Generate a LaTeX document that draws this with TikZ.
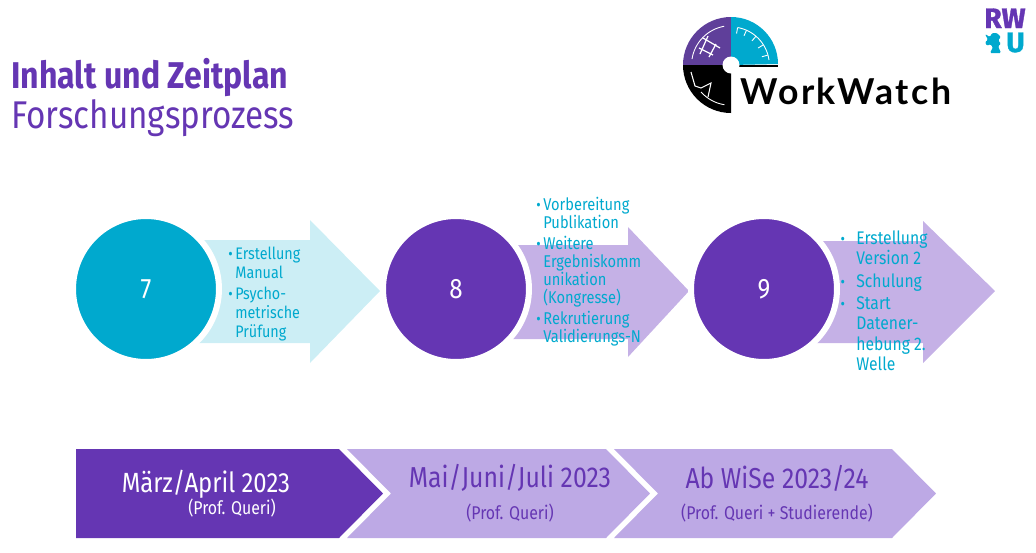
\documentclass[tikz,border=0pt]{standalone}
\usepackage{fontspec}
\setmainfont[FakeStretch=0.86]{Fira Sans}
\newfontfamily\logofont[LetterSpace=7]{Lato}
\newfontfamily\rwufont[BoldFeatures={FakeBold=1.2}]{Fira Sans}
\usetikzlibrary{calc,positioning}
\definecolor{rwupurple}{HTML}{6536B3}
\definecolor{rwucyan}{HTML}{00A9CE}
\definecolor{lightcyan}{HTML}{CCEEF5}
\definecolor{lightpurple}{HTML}{C5B1E6}
\definecolor{chevpurple}{HTML}{BDA9E5}
\definecolor{logopurple}{HTML}{5F3F9A}
\newcommand{\bul}{\leavevmode\llap{\small\textbullet\hspace{1.5pt}}}
\newcommand{\bulwide}{\leavevmode\llap{\small\textbullet\hspace{6.5pt}}}
\tikzset{
  numcirc/.style={circle,draw=white,line width=0.12cm,minimum size=2.92cm,text=white,font=\fontsize{16}{18}\selectfont},
  listtext/.style={anchor=north west,inner sep=0pt,align=left,text=rwucyan},
  chevhead/.style={inner sep=0pt,font=\fontsize{16.4}{18}\selectfont},
  chevsub/.style={inner sep=0pt,font=\fontsize{10.5}{12}\selectfont},
}
\begin{document}
\begin{tikzpicture}[x=0.02cm,y=-0.02cm]
    \useasboundingbox (0,0) rectangle (1036,552);

    % title
    \node[anchor=base west,inner sep=0pt,text=rwupurple,font=\fontsize{21.2}{24}\selectfont\bfseries] (title) at (11,88) {Inhalt und Zeitplan};
    \node[anchor=base west,inner sep=0pt,text=rwupurple,font=\fontsize{22}{24}\selectfont] (subtitle) at (11,128) {Forschungsprozess};

    % logo
    \fill[logopurple] (731,65) -- (683,65) arc[start angle=180,end angle=90,x radius=48,y radius=-48] -- cycle;
    \fill[rwucyan] (731,65) -- (731,17) arc[start angle=90,end angle=0,x radius=47,y radius=-47] -- cycle;
    \fill[black] (731,65) -- (683,65) arc[start angle=180,end angle=270,x radius=48,y radius=-48] -- cycle;
    \fill[black] (731,65) rectangle (778,67);
    \fill[white] (731,65) circle[radius=8.5];
    \foreach \a in {15,32,49,66,80}
        \draw[white,line width=0.5pt] ($(731,65)+(\a:38 and -38)$) -- ($(731,65)+(\a:32 and -32)$);
    \draw[white,line width=0.5pt] (769,60) arc[start angle=8,end angle=80,x radius=38.4,y radius=-38.4];
    \draw[white,line width=0.5pt] (692,59) arc[start angle=171,end angle=100,x radius=39.5,y radius=-39.5];
    \draw[white,line width=0.7pt] (703,38) -- (720,48) (699,48) -- (713,55) (700,54) -- (708,36) (709,57) -- (716,44);
    \draw[white,line width=0.6pt] (691,72) -- (695,86) -- (701,88) -- (711,83) -- (708,97);
    \draw[white,line width=0.5pt] (701,92) arc[start angle=222,end angle=261,x radius=40,y radius=-40];
    \node[anchor=base west,inner sep=0pt,font=\fontsize{20.3}{22}\logofont\bfseries] (workwatch) at (740,104) {WorkWatch};

    % RWU
    \node[anchor=base west,inner sep=0pt,text=rwupurple,font=\fontsize{16}{18}\rwufont\bfseries] (rw) at (984,28) {RW};
    \node[anchor=base west,inner sep=0pt,text=rwucyan,font=\fontsize{16}{18}\rwufont\bfseries] (u) at (1006,52) {U};
    \fill[rwucyan,rounded corners=0.7pt] (985,34) -- (990,37) -- (992,33) -- (997,33) -- (1001,37) -- (998,40) -- (1001,44) -- (998,46) -- (1001,53) -- (990,53) -- (993,47) -- (990,44) -- (987,46) -- (985,42) -- (988,40) -- cycle;

    % arrows
    \fill[lightcyan] (146,240) -- (310,240) -- (310,220) -- (380,291) -- (310,363) -- (310,343) -- (146,343) -- cycle;
    \fill[lightpurple] (456,245) -- (628,245) -- (628,227) -- (689,291) -- (628,357) -- (628,339) -- (456,339) -- cycle;
    \fill[lightpurple] (764,241) -- (923,241) -- (923,221) -- (995,291) -- (923,363) -- (923,343) -- (764,343) -- cycle;

    % circles
    \node[numcirc,fill=rwucyan] (seven) at (146,289) {7};
    \node[numcirc,fill=rwupurple] (eight) at (456,289) {8};
    \node[numcirc,fill=rwupurple] (nine) at (764,289) {9};

    % lists
    \node[listtext,font=\fontsize{9.5}{10.8}\selectfont] (list7) at (235,247) {\bul Erstellung\\Manual\\[1pt]\bul Psycho-\\metrische\\Prüfung};
    \node[listtext,font=\fontsize{9.7}{10.3}\selectfont] (list8) at (543,197) {\bul Vorbereitung\\Publikation\\[1.5pt]\bul Weitere\\Ergebniskomm\\unikation\\(Kongresse)\\[1.5pt]\bul Rekrutierung\\Validierungs-N};
    \node[listtext,font=\fontsize{10.4}{11.6}\selectfont] (list9) at (856,230) {\bulwide Erstellung\\Version 2\\[1.5pt]\bulwide Schulung\\[1pt]\bulwide Start\\Datener-\\hebung 2.\\Welle};

    % time line
    \fill[rwupurple] (76,449) -- (339,449) -- (383,493.5) -- (339,538) -- (76,538) -- cycle;
    \fill[chevpurple] (347,449) -- (606,449) -- (650,493.5) -- (606,538) -- (347,538) -- (391,493.5) -- cycle;
    \fill[chevpurple] (614,449) -- (892,449) -- (936,493.5) -- (892,538) -- (614,538) -- (658,493.5) -- cycle;

    \node[chevhead,text=white,font=\fontsize{15.8}{18}\selectfont] (marz) at (206,484) {März/April 2023};
    \node[chevsub,text=white] (marzsub) at (232,508) {(Prof. Queri)};
    \node[chevhead,text=rwupurple] (mai) at (510,478) {Mai/Juni/Juli 2023};
    \node[chevsub,text=rwupurple] (maisub) at (510,513) {(Prof. Queri)};
    \node[chevhead,text=rwupurple] (wise) at (777,478) {Ab WiSe 2023/24};
    \node[chevsub,text=rwupurple] (wisesub) at (777,513) {(Prof. Queri + Studierende)};
\end{tikzpicture}
\end{document}
